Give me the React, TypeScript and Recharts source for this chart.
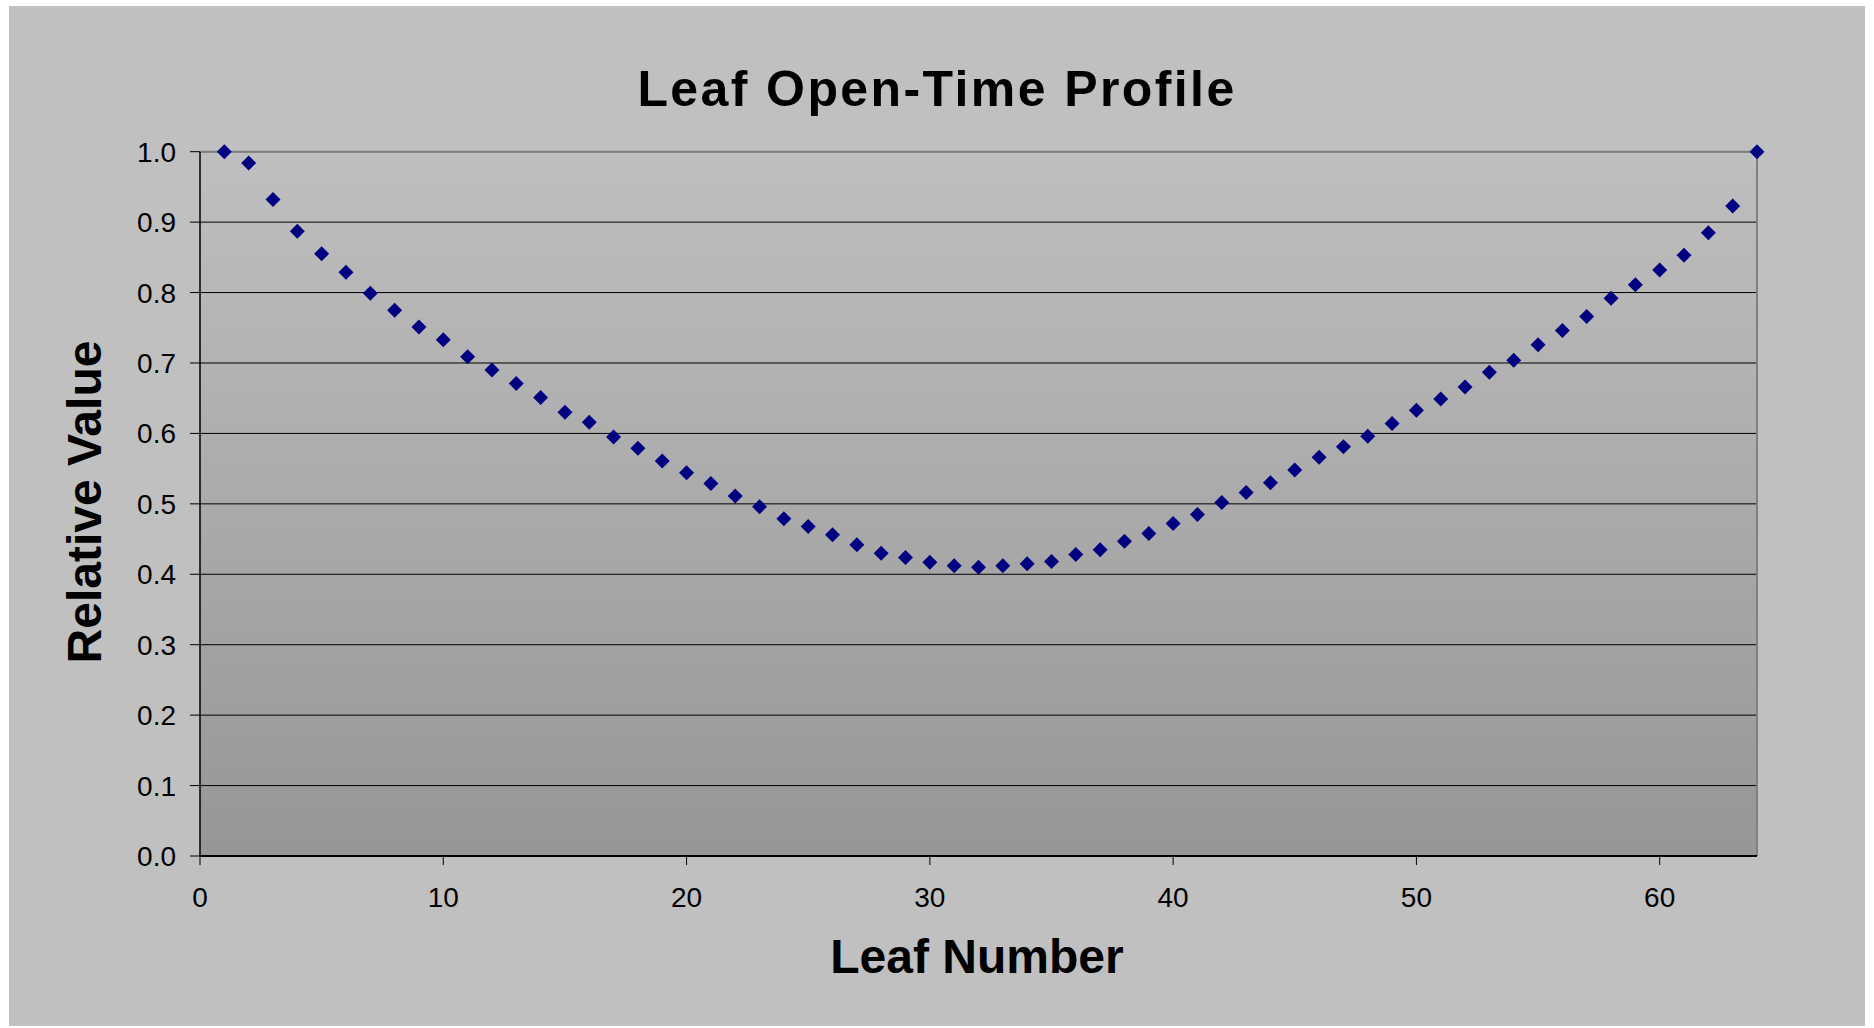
import React from "react";
import {
  ScatterChart,
  Scatter,
  XAxis,
  YAxis,
  CartesianGrid,
  ReferenceLine,
} from "recharts";

// Leaf index (x) and relative open-time (y)
const leafNumbers = [
  1, 2, 3, 4, 5, 6, 7, 8, 9, 10, 11, 12, 13, 14, 15, 16,
  17, 18, 19, 20, 21, 22, 23, 24, 25, 26, 27, 28, 29, 30, 31, 32,
  33, 34, 35, 36, 37, 38, 39, 40, 41, 42, 43, 44, 45, 46, 47, 48,
  49, 50, 51, 52, 53, 54, 55, 56, 57, 58, 59, 60, 61, 62, 63, 64,
];

const relativeValues = [
  1.0, 0.984, 0.932, 0.887, 0.855, 0.829, 0.799, 0.775,
  0.751, 0.733, 0.709, 0.69, 0.671, 0.651, 0.63, 0.616,
  0.595, 0.579, 0.561, 0.544, 0.529, 0.511, 0.496, 0.479,
  0.468, 0.456, 0.442, 0.43, 0.424, 0.417, 0.412, 0.41,
  0.412, 0.415, 0.418, 0.428, 0.435, 0.447, 0.458, 0.472,
  0.485, 0.502, 0.516, 0.53, 0.548, 0.566, 0.581, 0.596,
  0.614, 0.633, 0.649, 0.666, 0.687, 0.704, 0.726, 0.746,
  0.766, 0.792, 0.811, 0.832, 0.853, 0.885, 0.923, 1.0,
];

const xTicks = [0, 10, 20, 30, 40, 50, 60];
const yTicks = [0, 0.1, 0.2, 0.3, 0.4, 0.5, 0.6, 0.7, 0.8, 0.9, 1.0];

const data = leafNumbers.map((leaf, i) => ({ leaf, value: relativeValues[i] }));

const FONT = '"Liberation Sans", Arial, Helvetica, sans-serif';

// Excel-style navy diamond marker
const Diamond = (props: any) => {
  const { cx, cy } = props;
  if (cx == null || cy == null) return null;
  const r = 7.5;
  return (
    <polygon
      points={`${cx},${cy - r} ${cx + r},${cy} ${cx},${cy + r} ${cx - r},${cy}`}
      fill="#000080"
    />
  );
};

export default function App() {
  return (
    <div
      style={{
        position: "absolute",
        left: 0,
        top: 0,
        width: 1874,
        height: 1028,
        background: "#ffffff",
        fontFamily: FONT,
      }}
    >
      <div
        style={{
          position: "absolute",
          left: 9,
          top: 6,
          width: 1856,
          height: 1020,
          background: "#c0c0c0",
        }}
      >
        <ScatterChart
          width={1856}
          height={1020}
          margin={{ top: 145.7, right: 108, bottom: 110, left: 91 }}
        >
          <defs>
            <linearGradient id="plotGrad" x1="0" y1="0" x2="0" y2="1">
              <stop offset="0%" stopColor="#bfbfbf" />
              <stop offset="100%" stopColor="#969696" />
            </linearGradient>
          </defs>
          <CartesianGrid
            vertical={false}
            stroke="#000"
            strokeWidth={1}
            fill="url(#plotGrad)"
            fillOpacity={1}
          />
          <XAxis
            type="number"
            dataKey="leaf"
            domain={[0, 64]}
            ticks={xTicks}
            interval={0}
            height={60}
            tickSize={9}
            tickMargin={22}
            axisLine={{ stroke: "#000", strokeWidth: 2 }}
            tickLine={{ stroke: "#000", strokeWidth: 1 }}
            tick={{ fill: "#000", fontSize: 28, fontFamily: FONT }}
          />
          <YAxis
            type="number"
            dataKey="value"
            domain={[0, 1]}
            ticks={yTicks}
            interval={0}
            width={100}
            tickSize={10}
            tickMargin={14}
            tickFormatter={(v: number) => v.toFixed(1)}
            axisLine={{ stroke: "#000", strokeWidth: 1.5 }}
            tickLine={{ stroke: "#000", strokeWidth: 1 }}
            tick={{ fill: "#000", fontSize: 28, fontFamily: FONT }}
          />
          <ReferenceLine y={1} stroke="#808080" strokeWidth={2} />
          <ReferenceLine x={64} stroke="#808080" strokeWidth={2} />
          <Scatter
            data={data}
            shape={<Diamond />}
            isAnimationActive={false}
          />
        </ScatterChart>

        <div
          style={{
            position: "absolute",
            left: 0,
            top: 58.4,
            width: 1856,
            textAlign: "center",
            fontSize: 50,
            fontWeight: "bold",
            letterSpacing: 2.4,
            lineHeight: 1,
            color: "#000",
            whiteSpace: "nowrap",
          }}
        >
          Leaf Open-Time Profile
        </div>

        <div
          style={{
            position: "absolute",
            left: 568,
            top: 926.7,
            width: 800,
            textAlign: "center",
            fontSize: 48,
            fontWeight: "bold",
            lineHeight: 1,
            color: "#000",
            whiteSpace: "nowrap",
          }}
        >
          Leaf Number
        </div>

        <div
          style={{
            position: "absolute",
            left: 76,
            top: 495.5,
            transform: "translate(-50%, -50%) rotate(-90deg)",
            fontSize: 48,
            fontWeight: "bold",
            lineHeight: 1,
            color: "#000",
            whiteSpace: "nowrap",
          }}
        >
          Relative Value
        </div>
      </div>
    </div>
  );
}
